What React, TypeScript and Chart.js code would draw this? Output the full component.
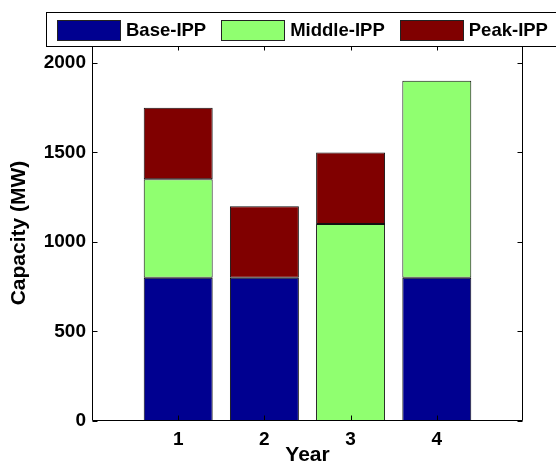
import React, { useEffect, useRef } from 'react';
import { Chart, registerables } from 'chart.js';

Chart.register(...registerables);

const years = [1, 2, 3, 4];
const baseIPP = [800, 800, 0, 800];
const middleIPP = [550, 0, 1100, 1100];
const peakIPP = [400, 400, 400, 0];
const yTicks = [0, 500, 1000, 1500, 2000];
const seriesNames = ['Base-IPP', 'Middle-IPP', 'Peak-IPP'];
const seriesColors = ['#000090', '#90FF70', '#800000'];

const FONT = '"Liberation Sans", Arial, Helvetica, sans-serif';
const TICK_FS = 19;
const TITLE_FS = 21;
const LEG_FS = 18.5;

const framePlugin = {
  id: 'frameAndLegend',
  afterDraw(chart: any) {
    const { ctx, chartArea: a, scales } = chart;
    const xs = scales.x;
    const ys = scales.y;
    const L = Math.round(a.left) + 0.5;
    const R = Math.round(a.right) - 0.5;
    const T = Math.round(a.top) + 0.5;
    const B = Math.round(a.bottom) - 0.5;
    const tl = 5;
    ctx.save();
    ctx.strokeStyle = '#000';
    ctx.lineWidth = 1;
    ctx.beginPath();
    ctx.rect(L, T, R - L, B - T);
    yTicks.forEach((v) => {
      const py = Math.round(ys.getPixelForValue(v)) + 0.5;
      ctx.moveTo(L, py);
      ctx.lineTo(L + tl, py);
      ctx.moveTo(R, py);
      ctx.lineTo(R - tl, py);
    });
    years.forEach((v) => {
      const px = Math.round(xs.getPixelForValue(v)) + 0.5;
      ctx.moveTo(px, B);
      ctx.lineTo(px, B - tl);
      ctx.moveTo(px, T);
      ctx.lineTo(px, T + tl);
    });
    ctx.stroke();

    // legend box
    ctx.font = `bold ${LEG_FS}px ${FONT}`;
    const boxL = 46.5;
    const boxT = Math.round(a.top) - 33 + 0.5;
    const boxH = 34;
    const sw = 63;
    const sh = 20;
    let x = boxL + 10.5;
    const items: { sx: number; tx: number; w: number }[] = [];
    seriesNames.forEach((name) => {
      const w = ctx.measureText(name).width;
      items.push({ sx: x, tx: x + sw + 6, w });
      x += sw + 6 + w + 15;
    });
    const last = items[items.length - 1];
    const boxR = Math.round(last.tx + last.w + 10) + 0.5;
    ctx.fillStyle = '#fff';
    ctx.fillRect(boxL, boxT, boxR - boxL, boxH);
    ctx.strokeStyle = '#000';
    ctx.strokeRect(boxL, boxT, boxR - boxL, boxH);
    items.forEach((it, i) => {
      const sy = Math.round(boxT + (boxH - sh) / 2) + 0.5;
      ctx.fillStyle = seriesColors[i];
      ctx.fillRect(Math.round(it.sx) + 0.5, sy, sw, sh);
      ctx.strokeStyle = '#222';
      ctx.strokeRect(Math.round(it.sx) + 0.5, sy, sw, sh);
      ctx.fillStyle = '#000';
      ctx.textBaseline = 'middle';
      ctx.textAlign = 'left';
      ctx.fillText(seriesNames[i], it.tx, boxT + boxH / 2 + 1);
    });
    ctx.restore();
  },
};

export default function App() {
  const ref = useRef<HTMLCanvasElement | null>(null);
  useEffect(() => {
    if (!ref.current) return;
    const seriesValues = [baseIPP, middleIPP, peakIPP];
    const tickFont = { family: FONT, size: TICK_FS, weight: 'bold' as const };
    const titleFont = { family: FONT, size: TITLE_FS, weight: 'bold' as const };
    const chart = new Chart(ref.current, {
      type: 'bar',
      data: {
        datasets: seriesNames.map((name, si) => ({
          label: name,
          data: years.map((yr, i) => ({ x: yr, y: seriesValues[si][i] })),
          backgroundColor: seriesColors[si],
          borderColor: '#111',
          borderWidth: 1,
          borderSkipped: false,
          barPercentage: 0.8,
          categoryPercentage: 1,
        })),
      },
      options: {
        animation: false,
        responsive: false,
        maintainAspectRatio: false,
        layout: { padding: { top: 45, right: 33, left: 0, bottom: 0 } },
        plugins: {
          legend: { display: false },
          tooltip: { enabled: false },
        },
        scales: {
          x: {
            type: 'linear',
            min: 0,
            max: 5,
            stacked: true,
            offset: false,
            grid: { display: false, drawTicks: false },
            border: { display: false },
            afterBuildTicks: (s: any) => {
              s.ticks = years.map((v) => ({ value: v }));
            },
            afterFit: (s: any) => {
              s.height = 53;
            },
            ticks: {
              font: tickFont,
              color: '#000',
              padding: 7,
              maxRotation: 0,
              autoSkip: false,
              callback: (v: any) => String(v),
            },
            title: {
              display: true,
              text: 'Year',
              color: '#000',
              font: titleFont,
              padding: { top: 0, bottom: 6 },
            },
          },
          y: {
            min: 0,
            max: 2100,
            stacked: true,
            grid: { display: false, drawTicks: false },
            border: { display: false },
            afterBuildTicks: (s: any) => {
              s.ticks = yTicks.map((v) => ({ value: v }));
            },
            afterFit: (s: any) => {
              s.width = 92;
            },
            ticks: {
              font: tickFont,
              color: '#000',
              padding: 6,
              autoSkip: false,
              callback: (v: any) => String(v),
            },
            title: {
              display: true,
              text: 'Capacity (MW)',
              color: '#000',
              font: titleFont,
              padding: { top: 7, bottom: 0 },
            },
          },
        },
      },
      plugins: [framePlugin],
    });
    return () => chart.destroy();
  }, []);
  return (
    <div style={{ position: 'absolute', left: 0, top: 0, width: 556, height: 474 }}>
      <canvas ref={ref} width={556} height={474} style={{ display: 'block', width: 556, height: 474 }} />
    </div>
  );
}
